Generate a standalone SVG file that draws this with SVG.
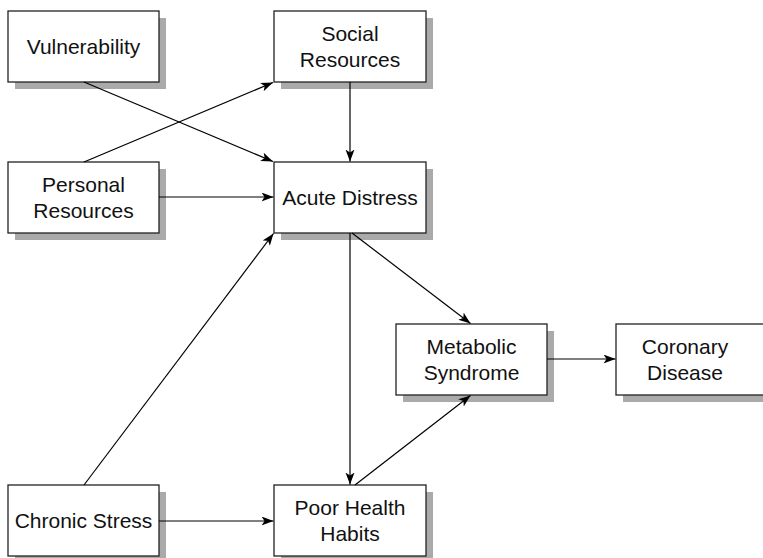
<svg xmlns="http://www.w3.org/2000/svg" width="763" height="558" viewBox="0 0 763 558">
<defs>
<marker id="ah" markerUnits="userSpaceOnUse" markerWidth="13" markerHeight="10" refX="12" refY="4.5" orient="auto">
<path d="M0,0 L12,4.5 L0,9 L3,4.5 Z" fill="#000"/>
</marker>
</defs>
<style>
.shadow{fill:#aaaaaa;stroke:none}
.box{fill:#fff;stroke:#222;stroke-width:1.3}
.lbl{font-family:"Liberation Sans",Arial,sans-serif;font-size:21px;fill:#111;text-anchor:middle}
.conn line{stroke:#000;stroke-width:1.2;marker-end:url(#ah)}
</style>
<rect width="763" height="558" fill="#fff"/>
<g id="vulnerability">
<rect class="shadow" x="15" y="18" width="151" height="71"/>
<rect class="box" x="8" y="11" width="151" height="71"/>
<text class="lbl" x="83.5" y="54">Vulnerability</text>
</g>
<g id="social-resources">
<rect class="shadow" x="281" y="18" width="152" height="71"/>
<rect class="box" x="274" y="11" width="152" height="71"/>
<text class="lbl" x="350" y="41">Social</text>
<text class="lbl" x="350" y="67">Resources</text>
</g>
<g id="personal-resources">
<rect class="shadow" x="15" y="169" width="151" height="71"/>
<rect class="box" x="8" y="162" width="151" height="71"/>
<text class="lbl" x="83.5" y="192">Personal</text>
<text class="lbl" x="83.5" y="218">Resources</text>
</g>
<g id="acute-distress">
<rect class="shadow" x="281" y="169" width="152" height="71"/>
<rect class="box" x="274" y="162" width="152" height="71"/>
<text class="lbl" x="350" y="205">Acute Distress</text>
</g>
<g id="metabolic-syndrome">
<rect class="shadow" x="403" y="331" width="151" height="71"/>
<rect class="box" x="396" y="324" width="151" height="71"/>
<text class="lbl" x="471.5" y="354">Metabolic</text>
<text class="lbl" x="471.5" y="380">Syndrome</text>
</g>
<g id="coronary-disease">
<rect class="shadow" x="623" y="331" width="151" height="71"/>
<rect class="box" x="616" y="324" width="151" height="71"/>
<text class="lbl" x="685" y="354">Coronary</text>
<text class="lbl" x="685" y="380">Disease</text>
</g>
<g id="chronic-stress">
<rect class="shadow" x="15" y="492" width="151" height="71"/>
<rect class="box" x="8" y="485" width="151" height="71"/>
<text class="lbl" x="83.5" y="528">Chronic Stress</text>
</g>
<g id="poor-health-habits">
<rect class="shadow" x="281" y="492" width="152" height="71"/>
<rect class="box" x="274" y="485" width="152" height="71"/>
<text class="lbl" x="350" y="515">Poor Health</text>
<text class="lbl" x="350" y="541">Habits</text>
</g>
<g id="connectors" class="conn">
<line x1="84" y1="82" x2="273" y2="161.5"/>
<line x1="84" y1="162" x2="273" y2="82.5"/>
<line x1="350" y1="82" x2="350" y2="161.5"/>
<line x1="159" y1="197" x2="273.5" y2="197"/>
<line x1="84" y1="485" x2="273.5" y2="233.5"/>
<line x1="350" y1="233" x2="350" y2="484.5"/>
<line x1="352" y1="233" x2="470.5" y2="323.5"/>
<line x1="355" y1="485" x2="470.5" y2="395.5"/>
<line x1="547" y1="359" x2="615.5" y2="359"/>
<line x1="159" y1="521" x2="273.5" y2="521"/>
</g>
</svg>
